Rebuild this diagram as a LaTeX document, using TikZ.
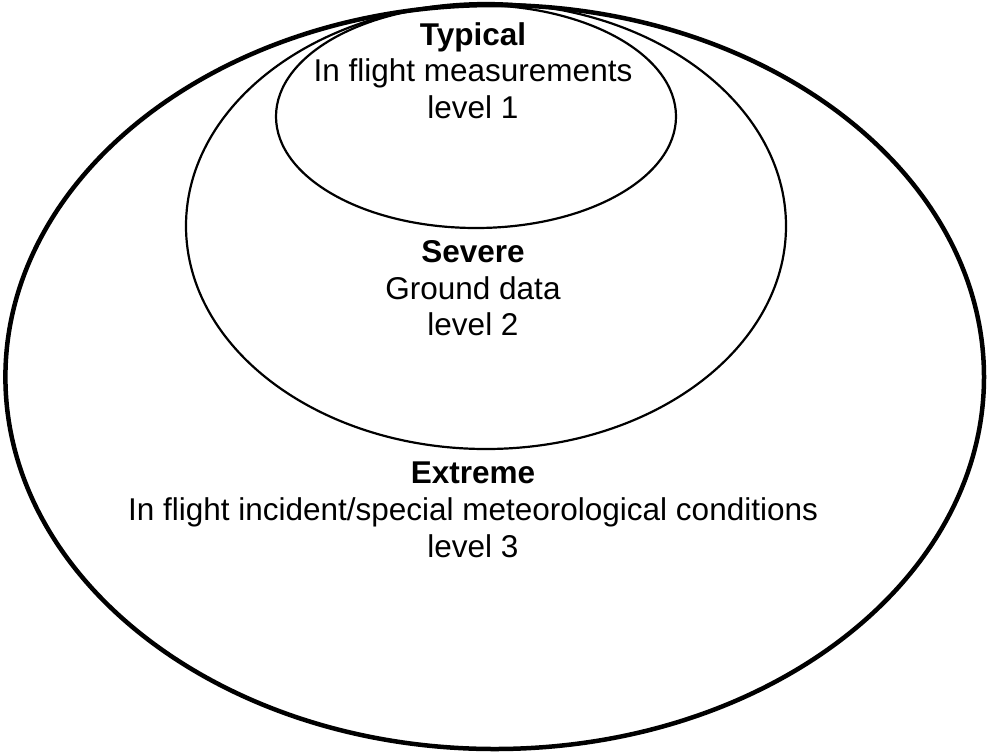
\documentclass[tikz,border=0pt]{standalone}
\usepackage{fontspec}
\setmainfont{Liberation Sans}
\usetikzlibrary{shapes.geometric}

\begin{document}
\begin{tikzpicture}[x=1pt, y=-1pt]
 \tikzstyle{ring}=[ellipse, draw, inner sep=0pt]
 \tikzstyle{levtext}=[align=center, inner sep=0pt, anchor=north, font=\fontsize{31.5}{36.8}\selectfont]
 \useasboundingbox (0,0) rectangle (987,753);

 \node[ring, line width=4.5pt, minimum width=978.6pt, minimum height=744pt] (extreme) at (494.7,377) {};
 \node[ring, line width=2.2pt, minimum width=600pt, minimum height=446pt] (severe) at (486,226) {};
 \node[ring, line width=2.2pt, minimum width=400pt, minimum height=223pt] (typical) at (476,116.5) {};

 \node[levtext] (typtext) at (473,22) {\textbf{Typical}\\In flight measurements\\level 1};
 \node[levtext] (sevtext) at (473,240) {\textbf{Severe}\\Ground data\\level 2};
 \node[levtext] (exttext) at (473,462) {\textbf{Extreme}\\In flight incident/special meteorological conditions\\level 3};
\end{tikzpicture}
\end{document}
